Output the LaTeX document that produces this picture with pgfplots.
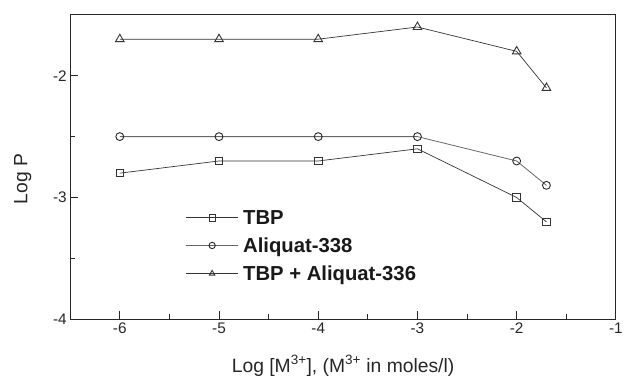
\documentclass[border=0pt]{standalone}
\usepackage{pgfplots}
\pgfplotsset{compat=1.18}
\usepackage{fontspec}
\setmainfont{Liberation Sans}
\begin{document}
\begin{tikzpicture}
\begin{axis}[
  scale only axis,
  width=552pt, height=308pt,
  xmin=-6.5, xmax=-1, ymin=-4, ymax=-1.5,
  xtick={-6,-5,-4,-3,-2,-1},
  ytick={-4,-3,-2},
  minor x tick num=1, minor y tick num=1,
  tick pos=left,
  tick align=inside,
  major tick length=8pt, minor tick length=5pt,
  axis line style={line width=1pt, black!85},
  every tick/.style={line width=0.9pt, black!85},
  /pgf/number format/assume math mode=true,
  ticklabel style={font=\fontsize{15.5}{17}\selectfont, text=black!85},
  xlabel={Log [M\textsuperscript{3+}], (M\textsuperscript{3+} in moles/l)},
  ylabel={Log P},
  label style={font=\fontsize{19.5}{22}\selectfont, text=black!85},
  xlabel style={at={(axis description cs:0.5,-0.153)}, anchor=center},
  ylabel style={at={(axis description cs:-0.087,0.46)}, anchor=center, rotate=0},
  legend style={at={(rel axis cs:0.2065,0.369)}, anchor=north west, draw=none, fill=none,
    font=\bfseries\fontsize{20.5}{23}\selectfont, text=black!90, row sep=10pt, column sep=4pt,
    nodes={inner sep=1pt}},
  legend cell align=left,
  legend image code/.code={\draw[mark repeat=2,mark phase=2,mark size=3.2pt] plot coordinates {(0pt,0pt)(26pt,0pt)(52pt,0pt)};},
  clip=false,
]
\addplot[black!80, line width=0.7pt, mark=square, mark size=3.8pt, mark options={solid, line width=0.9pt, fill=white}]
  coordinates {(-6,-2.8) (-5,-2.7) (-4,-2.7) (-3,-2.6) (-2,-3.0) (-1.7,-3.2)};
\addlegendentry{TBP}
\addplot[black!60, line width=0.8pt, mark=o, mark size=4pt, mark options={solid, black!85, line width=0.9pt, fill=white}]
  coordinates {(-6,-2.5) (-5,-2.5) (-4,-2.5) (-3,-2.5) (-2,-2.7) (-1.7,-2.9)};
\addlegendentry{Aliquat-338}
\addplot[black!80, line width=0.7pt, mark=triangle, mark size=5pt, mark options={solid, line width=0.9pt, fill=white}]
  coordinates {(-6,-1.7) (-5,-1.7) (-4,-1.7) (-3,-1.6) (-2,-1.8) (-1.7,-2.1)};
\addlegendentry{TBP + Aliquat-336}
\coordinate (bl) at (rel axis cs:0,0);
\coordinate (tr) at (rel axis cs:1,1);
\end{axis}
\path ([shift={(-71pt,-60pt)}]bl) rectangle ([shift={(3pt,15pt)}]tr);
\end{tikzpicture}
\end{document}
